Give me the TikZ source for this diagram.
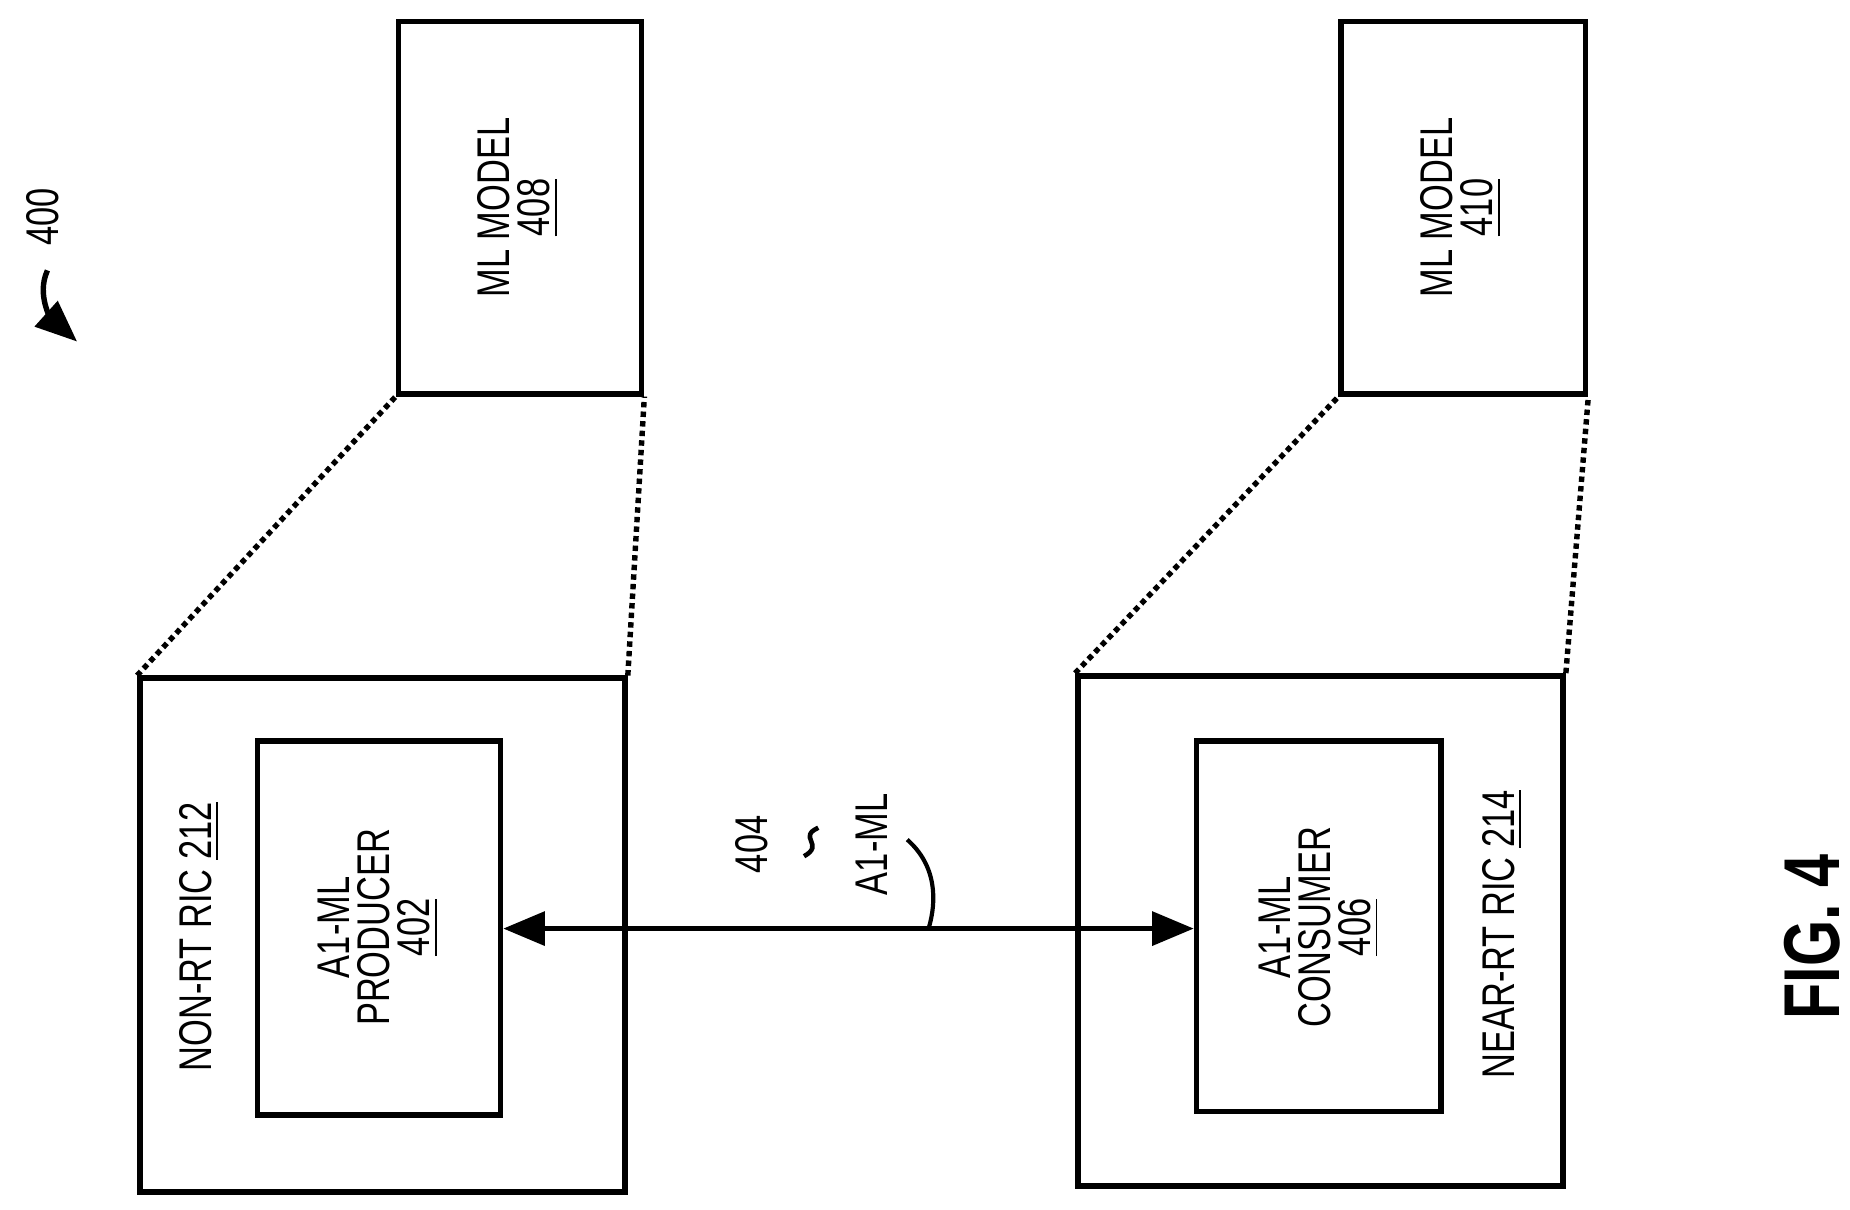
\documentclass[tikz,border=0pt]{standalone}
\usepackage{fontspec}
\setmainfont[FakeStretch=0.75]{Liberation Sans}
\usetikzlibrary{arrows.meta}
\tikzset{
  box/.style={draw, line width=1.3pt, inner sep=0pt},
  lbl/.style={rotate=90, align=center, font=\fontsize{11}{9.6}\selectfont, inner sep=0pt},
  link/.style={densely dotted, line width=1.3pt},
  tip/.tip={Triangle[length=10pt,width=8pt]}
}
\begin{document}
\begin{tikzpicture}[x=0.01cm, y=-0.01cm]
\useasboundingbox (0,0) rectangle (1560,1020);

\node[box, minimum width=4.09cm, minimum height=4.33cm] (nonrt) at (322.5,788.5) {};
\node[box, minimum width=2.05cm, minimum height=3.15cm] (prod) at (319.5,782.5) {};
\node[box, minimum width=4.09cm, minimum height=4.30cm] (nearrt) at (1113.5,785) {};
\node[box, minimum width=2.06cm, minimum height=3.12cm] (cons) at (1112,781) {};
\node[box, minimum width=2.05cm, minimum height=3.14cm] (ml1) at (438.5,175) {};
\node[box, minimum width=2.06cm, minimum height=3.14cm] (ml2) at (1234,175) {};

\node[lbl] (nonrtl) at (168,790) {NON-RT RIC \underline{212}};
\node[lbl] (prodl) at (319,782) {A1-ML\\PRODUCER\\\underline{402}};
\node[lbl] (ml1l) at (437,175) {ML MODEL\\\underline{408}};
\node[lbl] (nearrtl) at (1267,788) {NEAR-RT RIC \underline{214}};
\node[lbl] (consl) at (1112,782) {A1-ML\\CONSUMER\\\underline{406}};
\node[lbl] (ml2l) at (1232,175) {ML MODEL\\\underline{410}};

% connectors to the models
\draw[link] (nonrt.north west) -- (ml1.south west);
\draw[link] (nonrt.north east) -- (ml1.south east);
\draw[link] (nearrt.north west) -- (ml2.south west);
\draw[link] (nearrt.north east) -- (ml2.south east);

% A1-ML interface
\draw[line width=1.3pt, tip-tip] (prod.east |- 0,783) coordinate (pa) -- (cons.west |- 0,783) coordinate (pb);
\node[lbl] (ifnum) at (634,712) {404};
\node[lbl] (ifname) at (735,712) {A1-ML};
\draw[line width=1.1pt] (678,722) .. controls (696,712) and (672,706) .. (690,698);
\draw[line width=1pt] (765,708) .. controls (790,730) and (790,760) .. (783,783);

% figure number
\node[lbl] (ref) at (36,183) {400};
\draw[line width=1.3pt, -{Triangle[length=10pt,width=8pt]}] (40,228) .. controls (30,250) and (45,270) .. (65,288);
\node[rotate=90, font=\bfseries\fontsize{19}{22}\selectfont] (fig) at (1528,790) {FIG. 4};
\end{tikzpicture}
\end{document}
